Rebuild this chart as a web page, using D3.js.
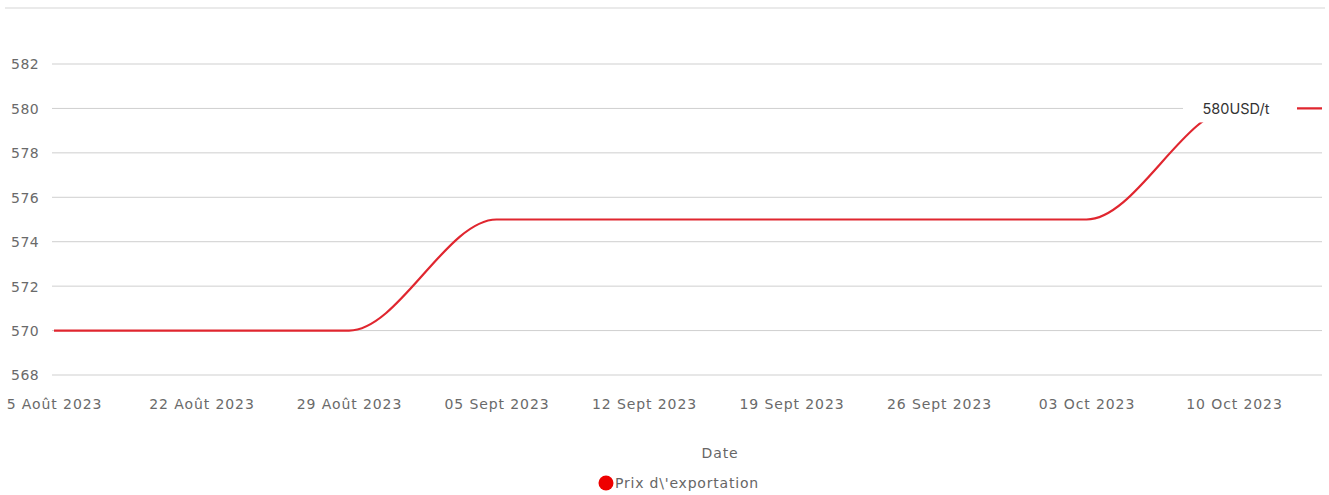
<!DOCTYPE html>
<html lang="fr">
  <head>
    <meta charset="UTF-8" />
    <title>Prix d'exportation</title>
    <script src="https://d3js.org/d3.v7.min.js"></script>
    <style>
      body {
        margin: 0;
        background: #fff;
        font-family: "DejaVu Sans", sans-serif;
      }
      svg {
        display: block;
      }
      .grid line {
        stroke: #cfcfcf;
        stroke-width: 1;
      }
      .tick text {
        fill: #6a6a6a;
        font-size: 14px;
        font-family: "DejaVu Sans", sans-serif;
        letter-spacing: 0.9px;
      }
    </style>
  </head>
  <body>
    <script>
      // data
      const dates = [
        "5 Août 2023", "22 Août 2023", "29 Août 2023", "05 Sept 2023",
        "12 Sept 2023", "19 Sept 2023", "26 Sept 2023", "03 Oct 2023",
        "10 Oct 2023", "17 Oct 2023"
      ];
      const prix = [570, 570, 570, 575, 575, 575, 575, 575, 580, 580];
      const yTicks = [568, 570, 572, 574, 576, 578, 580, 582];
      const labelIndex = 8;
      const labelUnit = "USD/t";

      const width = 1329, height = 495;
      const plotRight = 1322;
      const svg = d3.select("body").append("svg")
        .attr("width", width).attr("height", height);

      const x = d3.scalePoint().domain(dates).range([54, 1381.5]);
      const y = d3.scaleLinear().domain([568, 582]).range([375, 64]);

      // top separator (title cut off)
      svg.append("line")
        .attr("x1", 5).attr("x2", 1325).attr("y1", 8).attr("y2", 8)
        .attr("stroke", "#eaeaea").attr("stroke-width", 2);

      svg.append("clipPath").attr("id", "clip")
        .append("rect").attr("x", 0).attr("y", 0).attr("width", plotRight).attr("height", height);

      // grid
      const grid = svg.append("g").attr("class", "grid").attr("clip-path", "url(#clip)");
      grid.selectAll("line").data(yTicks).enter().append("line")
        .attr("x1", 52).attr("x2", 1400)
        .attr("y1", d => y(d)).attr("y2", d => y(d));

      // y axis labels
      const yAxis = svg.append("g")
        .attr("transform", "translate(39,0)")
        .call(d3.axisLeft(y).tickValues(yTicks).tickSize(0).tickPadding(0));
      yAxis.select(".domain").remove();
      yAxis.selectAll("text").attr("dy", "0.35em").style("letter-spacing", "0.4px");

      // x axis labels (ticks beyond the visible plot are hidden, as in the cut-off original)
      const xAxis = svg.append("g")
        .attr("transform", "translate(0,399)")
        .call(d3.axisBottom(x).tickSize(0).tickPadding(0));
      xAxis.select(".domain").remove();
      xAxis.selectAll(".tick").filter(d => x(d) > plotRight).remove();

      // line
      const line = d3.line()
        .x((d, i) => x(dates[i]))
        .y(d => y(d))
        .curve(d3.curveMonotoneX);

      svg.append("path")
        .datum(prix)
        .attr("clip-path", "url(#clip)")
        .attr("d", line)
        .attr("fill", "none")
        .attr("stroke", "#e0262f")
        .attr("stroke-width", 2.2);

      // value label
      const lx = x(dates[labelIndex]) + 6, ly = y(prix[labelIndex]);
      svg.append("rect")
        .attr("x", lx - 57).attr("y", ly - 16)
        .attr("width", 114).attr("height", 30)
        .attr("fill", "#fff");
      svg.append("text")
        .attr("x", lx - 4).attr("y", ly)
        .attr("dy", "0.35em")
        .attr("text-anchor", "middle")
        .attr("fill", "#333")
        .style("font-family", "Inter, sans-serif")
        .style("font-size", "14.5px")
        .text(prix[labelIndex] + labelUnit);

      // axis title
      svg.append("text")
        .attr("x", 720).attr("y", 453)
        .attr("dy", "0.35em")
        .attr("text-anchor", "middle")
        .attr("fill", "#666")
        .style("font-size", "14px")
        .style("letter-spacing", "0.9px")
        .text("Date");

      // legend
      svg.append("circle")
        .attr("cx", 606).attr("cy", 483).attr("r", 7.5)
        .attr("fill", "#ee0000");
      svg.append("text")
        .attr("x", 615).attr("y", 483)
        .attr("dy", "0.35em")
        .attr("fill", "#666")
        .style("font-size", "14px")
        .style("letter-spacing", "0.8px")
        .text("Prix d\\'exportation");
    </script>
  </body>
</html>
